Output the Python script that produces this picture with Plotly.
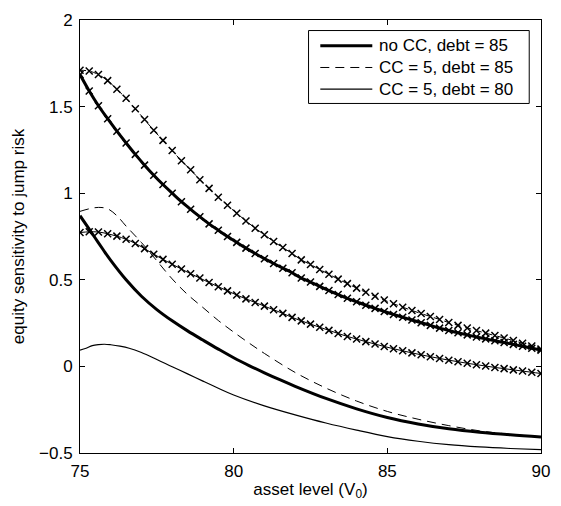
import plotly.graph_objects as go

# ---- data ----
# curves without markers (legend entries)
x_nocc85 = [75, 75.25, 75.5, 75.75, 76, 76.5, 77, 77.5, 78, 78.5, 79, 79.5, 80, 80.5, 81, 81.5,
            82, 83, 84, 85, 86, 87, 88, 89, 90]
y_nocc85 = [0.87, 0.805, 0.74, 0.675, 0.612, 0.5, 0.405, 0.328, 0.263, 0.205, 0.152, 0.1, 0.05,
            0.005, -0.037, -0.077, -0.115, -0.185, -0.245, -0.295, -0.332, -0.36, -0.38, -0.395, -0.407]

x_cc5_85 = [75, 75.3, 75.6, 75.9, 76.2, 76.5, 77, 77.5, 78, 78.5, 79, 79.5, 80, 80.5, 81, 82,
            83, 84, 85, 86, 87, 88, 89, 90]
y_cc5_85 = [0.895, 0.91, 0.918, 0.91, 0.87, 0.81, 0.715, 0.61, 0.505, 0.415, 0.34, 0.265, 0.198,
            0.135, 0.075, -0.035, -0.125, -0.2, -0.26, -0.305, -0.342, -0.372, -0.392, -0.407]

x_cc5_80 = [75, 75.2, 75.4, 75.6, 75.8, 76, 76.3, 76.6, 77, 77.5, 78, 78.5, 79, 79.5, 80, 81,
            82, 83, 84, 85, 86, 87, 88, 89, 90]
y_cc5_80 = [0.094, 0.105, 0.12, 0.126, 0.128, 0.125, 0.117, 0.105, 0.08, 0.04, -0.002, -0.043,
            -0.085, -0.126, -0.165, -0.228, -0.28, -0.327, -0.368, -0.405, -0.432, -0.452, -0.465,
            -0.474, -0.481]

# curves with x markers
x_mark = [75.0, 75.3, 75.6, 75.9, 76.2, 76.5, 76.8, 77.1, 77.4, 77.7, 78.0, 78.3, 78.6, 78.9,
          79.2, 79.5, 79.8, 80.1, 80.4, 80.7, 81.0, 81.3, 81.6, 81.9, 82.2, 82.5, 82.8, 83.1,
          83.4, 83.7, 84.0, 84.3, 84.6, 84.9, 85.2, 85.5, 85.8, 86.1, 86.4, 86.7, 87.0, 87.3,
          87.6, 87.9, 88.2, 88.5, 88.8, 89.1, 89.4, 89.7, 90.0]

y_mark_thick = [1.685, 1.59, 1.505, 1.43, 1.358, 1.29, 1.224, 1.162, 1.104, 1.05, 1.0, 0.951,
                0.907, 0.864, 0.823, 0.786, 0.75, 0.716, 0.683, 0.652, 0.622, 0.594, 0.567,
                0.541, 0.51, 0.487, 0.462, 0.438, 0.415, 0.393, 0.373, 0.353, 0.335, 0.317,
                0.3, 0.284, 0.268, 0.252, 0.237, 0.221, 0.207, 0.194, 0.182, 0.17, 0.159,
                0.148, 0.138, 0.127, 0.116, 0.105, 0.094]

y_mark_dash = [1.71, 1.705, 1.685, 1.65, 1.6, 1.548, 1.488, 1.425, 1.363, 1.305, 1.246, 1.187,
               1.135, 1.078, 1.028, 0.977, 0.93, 0.884, 0.84, 0.798, 0.76, 0.721, 0.686, 0.652,
               0.615, 0.588, 0.56, 0.532, 0.504, 0.478, 0.452, 0.428, 0.405, 0.383, 0.362,
               0.342, 0.323, 0.305, 0.288, 0.271, 0.253, 0.237, 0.222, 0.207, 0.192, 0.178,
               0.164, 0.149, 0.134, 0.118, 0.1]

y_mark_thin = [0.773, 0.777, 0.776, 0.766, 0.752, 0.734, 0.71, 0.68, 0.648, 0.618, 0.59, 0.562,
               0.535, 0.51, 0.484, 0.46, 0.436, 0.412, 0.39, 0.369, 0.348, 0.327, 0.306, 0.283,
               0.263, 0.244, 0.226, 0.208, 0.19, 0.173, 0.158, 0.143, 0.129, 0.115, 0.102,
               0.09, 0.078, 0.067, 0.056, 0.046, 0.036, 0.027, 0.018, 0.01, 0.002, -0.006,
               -0.013, -0.02, -0.027, -0.034, -0.041]

x_ticks = [75, 80, 85, 90]
y_ticks = [-0.5, 0, 0.5, 1, 1.5, 2]

legend_labels = ["no CC, debt = 85", "CC = 5, debt = 85", "CC = 5, debt = 80"]

FONT = "Liberation Sans, Arial, Helvetica, sans-serif"
FS = 17

fig = go.Figure()

mk = dict(symbol="x-thin", size=7, line=dict(width=1.5, color="black"), color="black")

fig.add_trace(go.Scatter(x=x_mark, y=y_mark_thick, mode="lines+markers", showlegend=False,
                         line=dict(color="black", width=3, shape="spline"), marker=mk))
fig.add_trace(go.Scatter(x=x_mark, y=y_mark_dash, mode="lines+markers", showlegend=False,
                         line=dict(color="black", width=1, dash="6px,5px", shape="spline"), marker=mk))
fig.add_trace(go.Scatter(x=x_mark, y=y_mark_thin, mode="lines+markers", showlegend=False,
                         line=dict(color="black", width=1, shape="spline"), marker=mk))

styles = [dict(color="black", width=3),
          dict(color="black", width=1, dash="9px,6px"),
          dict(color="black", width=1.2)]

for xs, ys, name, st in zip([x_nocc85, x_cc5_85, x_cc5_80], [y_nocc85, y_cc5_85, y_cc5_80],
                            legend_labels, styles):
    fig.add_trace(go.Scatter(x=xs, y=ys, mode="lines", name=name, showlegend=False,
                             line=dict(shape="spline", **st)))

# ---- legend box drawn in paper coordinates (MATLAB-style long line samples) ----
L, R, T, B = 80, 550, 17.3, 456.7   # plot area in pixels (for converting layout positions)
def px_x(p):
    return (p - L) / (R - L)
def px_y(p):
    return 1 - (p - T) / (B - T)

shapes = [dict(type="rect", xref="paper", yref="paper",
               x0=px_x(313), x1=px_x(538), y0=px_y(102), y1=px_y(28),
               line=dict(color="black", width=1), fillcolor="white", layer="above")]
annotations = []
rows = [43.5, 65.5, 87.5]
for row, name, st in zip(rows, legend_labels, styles):
    shapes.append(dict(type="line", xref="paper", yref="paper",
                       x0=px_x(325), x1=px_x(378), y0=px_y(row), y1=px_y(row),
                       line=st, layer="above"))
    annotations.append(dict(text=name, xref="paper", yref="paper", x=px_x(383), y=px_y(row),
                            xanchor="left", yanchor="middle", showarrow=False,
                            font=dict(size=FS, family=FONT, color="black")))

axis_common = dict(showline=True, linecolor="black", linewidth=1, mirror="allticks",
                   ticks="inside", ticklen=5, tickcolor="black", showgrid=False,
                   zeroline=False, tickfont=dict(size=FS, color="black", family=FONT))

fig.update_layout(
    width=561, height=506,
    margin=dict(l=80, r=11, t=17, b=49),
    paper_bgcolor="white", plot_bgcolor="white",
    font=dict(family=FONT, size=FS, color="black"),
    showlegend=False,
    shapes=shapes,
    annotations=annotations,
    xaxis=dict(range=[75, 90], tickvals=x_ticks, ticklabelstandoff=3, **axis_common,
               title=dict(text="asset level (V<sub>0</sub>)", font=dict(size=FS, family=FONT),
                          standoff=2)),
    yaxis=dict(range=[-0.5, 2], tickvals=y_ticks, ticklabelstandoff=3, **axis_common,
               title=dict(text="equity sensitivity to jump risk", font=dict(size=FS, family=FONT),
                          standoff=10)),
)

fig.write_html("out.html")
